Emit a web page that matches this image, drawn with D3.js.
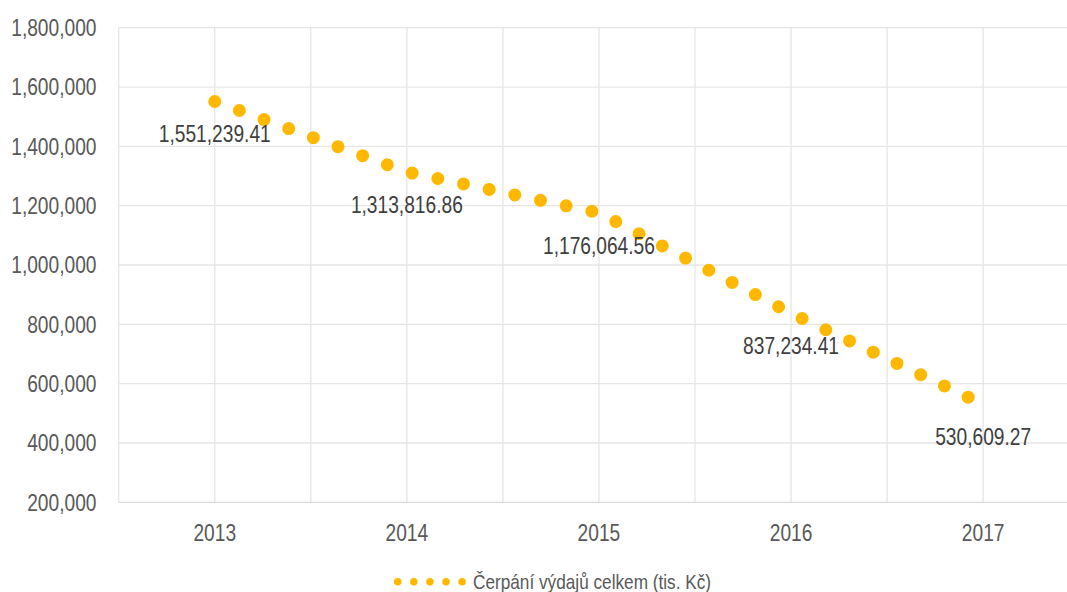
<!DOCTYPE html>
<html>
<head>
<meta charset="utf-8">
<script src="https://cdn.jsdelivr.net/npm/d3@7"></script>
<style>
  body { margin: 0; background: #fff; }
  text { font-family: "Liberation Sans Narrow", "Arial Narrow", "Liberation Sans", Arial, sans-serif; fill: #595959; }
</style>
</head>
<body>
<div id="chart"></div>
<script>
// data
var years = [2013, 2014, 2015, 2016, 2017];
var values = [1551239.41, 1313816.86, 1176064.56, 837234.41, 530609.27];
var valueLabels = ["1,551,239.41", "1,313,816.86", "1,176,064.56", "837,234.41", "530,609.27"];
var yTicks = [200000, 400000, 600000, 800000, 1000000, 1200000, 1400000, 1600000, 1800000];
var seriesName = "Čerpání výdajů celkem (tis. Kč)";

var W = 1067, H = 592;
var color = "#FFB800";
// no narrow face installed, so squeeze the regular one
var squeeze = 0.82;

var svg = d3.select("#chart").append("svg")
    .attr("width", W)
    .attr("height", H);

// plot runs past the right edge, like in the picture
var x = d3.scaleLinear().domain([2012.5, 2017.5]).range([118.7, 1079.2]);
var y = d3.scaleLinear().domain([200000, 1800000]).range([502.3, 27.7]);

var fmt = d3.format(",");

function place(px, py) {
    return "translate(" + px + "," + py + ") scale(" + squeeze + ",1)";
}

//Horizontal grid
svg.append("g").selectAll("line")
    .data(yTicks)
    .enter().append("line")
    .attr("x1", x.range()[0])
    .attr("x2", x.range()[1])
    .attr("y1", function(d){ return y(d); })
    .attr("y2", function(d){ return y(d); })
    .attr("stroke", function(d){ return d === 200000 ? "#d9d9d9" : "#e6e6e6"; })
    .attr("stroke-width", 1.3);

//Vertical grid every half year
var vTicks = d3.range(0, 11).map(function(i){ return 2012.5 + i * 0.5; });
svg.append("g").selectAll("line")
    .data(vTicks)
    .enter().append("line")
    .attr("x1", function(d){ return x(d); })
    .attr("x2", function(d){ return x(d); })
    .attr("y1", y(1800000))
    .attr("y2", y(200000))
    .attr("stroke", "#e6e6e6")
    .attr("stroke-width", 1.3);

//Y labels
svg.append("g").selectAll("text")
    .data(yTicks)
    .enter().append("text")
    .attr("transform", function(d){ return place(96.5, y(d)); })
    .attr("dy", "0.35em")
    .attr("text-anchor", "end")
    .style("font-size", "23.4px")
    .text(function(d){ return fmt(d); });

//X labels
svg.append("g").selectAll("text")
    .data(years)
    .enter().append("text")
    .attr("transform", function(d){ return place(x(d), 541); })
    .attr("text-anchor", "middle")
    .style("font-size", "23.4px")
    .text(function(d){ return d; });

//Series line, round dots
var points = years.map(function(yr, i){ return [x(yr), y(values[i])]; });
svg.append("path")
    .attr("d", d3.line()(points))
    .attr("fill", "none")
    .attr("stroke", color)
    .attr("stroke-width", 13)
    .attr("stroke-linecap", "round")
    .attr("stroke-dasharray", "0 26.25");

//Data labels below points
svg.append("g").selectAll("text")
    .data(years)
    .enter().append("text")
    .attr("transform", function(d, i){ return place(x(d), y(values[i]) + 41); })
    .attr("text-anchor", "middle")
    .style("font-size", "23.4px")
    .style("fill", "#404040")
    .text(function(d, i){ return valueLabels[i]; });

//Legend
var legend = svg.append("g");
legend.append("line")
    .attr("x1", 397.7)
    .attr("x2", 466)
    .attr("y1", 581.7)
    .attr("y2", 581.7)
    .attr("stroke", color)
    .attr("stroke-width", 7.5)
    .attr("stroke-linecap", "round")
    .attr("stroke-dasharray", "0 16.1");
legend.append("text")
    .attr("transform", place(473, 581.7))
    .attr("dy", "0.35em")
    .style("font-size", "21px")
    .text(seriesName);
</script>
</body>
</html>
